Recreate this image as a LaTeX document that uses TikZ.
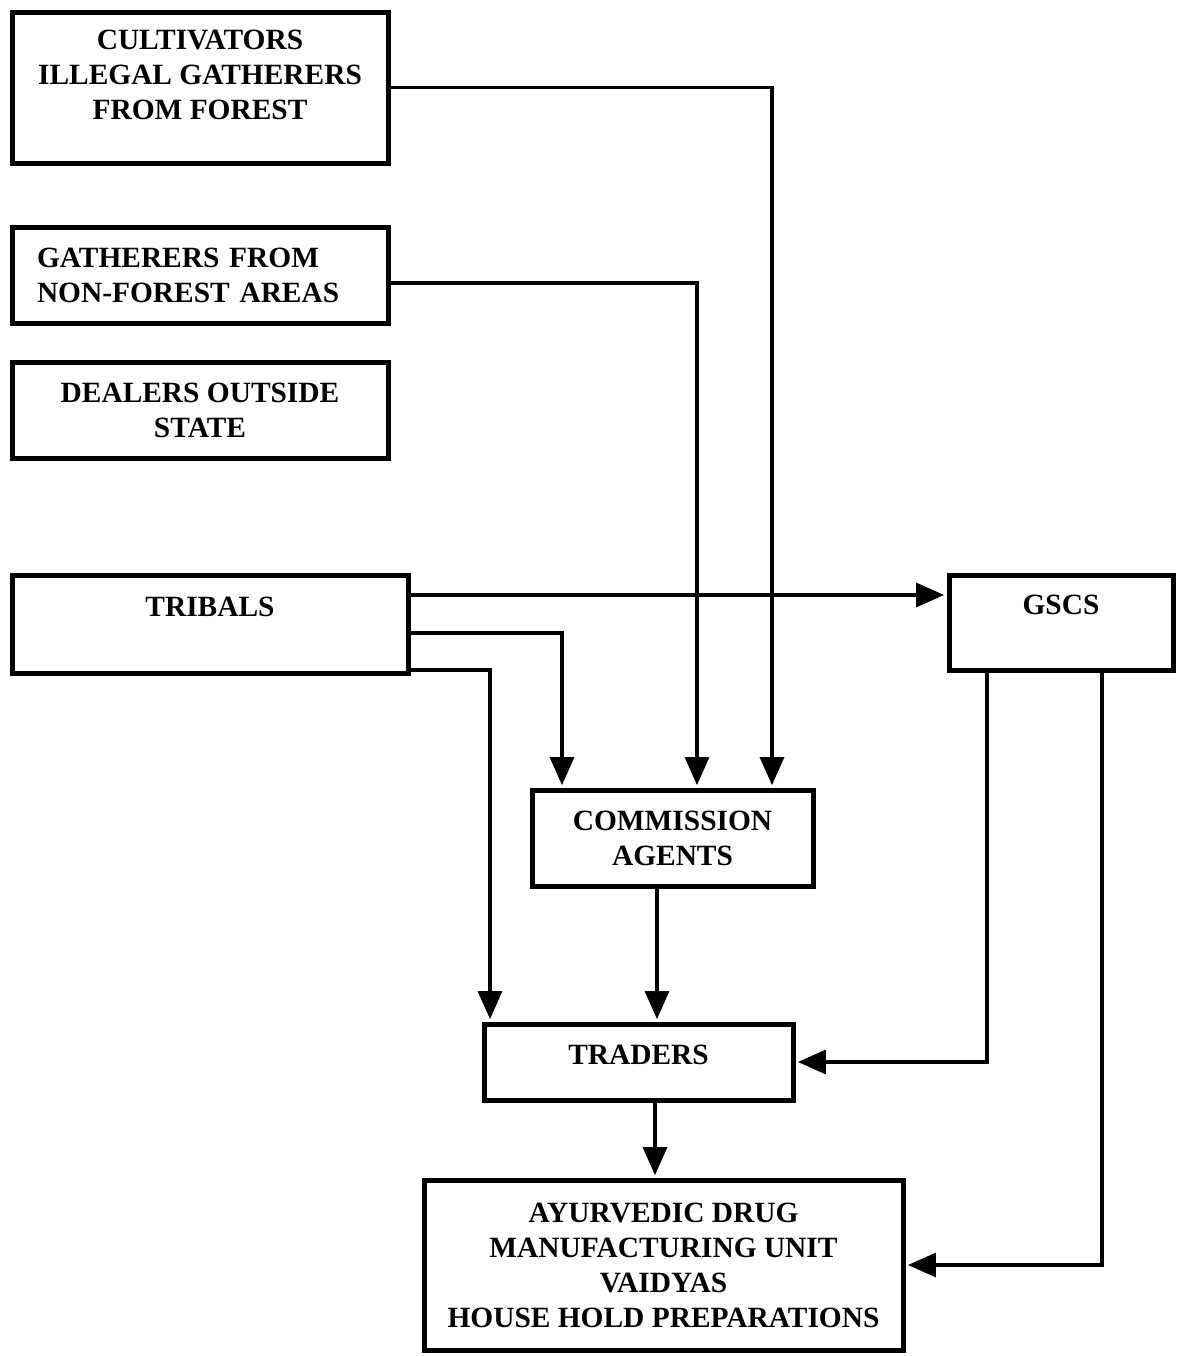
\documentclass[tikz,border=0pt]{standalone}
\usepackage{fontspec}
\setmainfont{Liberation Serif}
\usetikzlibrary{arrows.meta}

\begin{document}
\begin{tikzpicture}[x=0.5pt, y=-0.5pt,
  box/.style={draw, line width=2.5pt, align=center, inner sep=0pt,
    font=\bfseries\fontsize{14.7}{17.5}\selectfont},
  flow/.style={line width=1.6pt, shorten >=1.2pt,
    -{Triangle[length=14pt, width=12pt]}}]
\useasboundingbox (0,0) rectangle (1179,1356);

\node[box, minimum width=188pt, minimum height=75.5pt] (cult) at (200,87.5)
  {CULTIVATORS\\ILLEGAL GATHERERS\\FROM FOREST\\[-5pt]~};
\node[box, align=left, text width=163pt, inner xsep=12.5pt, minimum height=48pt] (gath) at (200,275)
  {GATHERERS FROM\\NON-FOREST AREAS};
\node[box, minimum width=188pt, minimum height=48pt] (deal) at (200,410)
  {DEALERS OUTSIDE\\STATE};
\node[box, minimum width=198pt, minimum height=49pt] (trib) at (210,624)
  {TRIBALS\\~};
\node[box, minimum width=112pt, minimum height=47.5pt] (gscs) at (1061,622.5)
  {GSCS\\~};
\node[box, minimum width=140.5pt, minimum height=48pt] (comm) at (672.5,838)
  {COMMISSION\\AGENTS};
\node[box, minimum width=154.5pt, minimum height=38pt] (trad) at (638.5,1062)
  {TRADERS\\[-10.5pt]~};
\node[box, minimum width=239.5pt, minimum height=85pt] (ayur) at (663.5,1265)
  {AYURVEDIC DRUG\\MANUFACTURING UNIT\\VAIDYAS\\HOUSE HOLD PREPARATIONS};

% supply lines
\draw[flow] (cult.east) -| (772,0 |- comm.north);
\draw[flow] ([yshift=-4pt]gath.east) -| (697,0 |- comm.north);
\draw[flow] ([yshift=14.5pt]trib.east) -- ([yshift=13.75pt]gscs.west);
\draw[flow] ([yshift=-4.5pt]trib.east) -| (562,0 |- comm.north);
\draw[flow] ([yshift=-23pt]trib.east) -| (490,0 |- trad.north);
\draw[flow] (657,0 |- comm.south) -- (657,0 |- trad.north);
\draw[flow] (987,0 |- gscs.south) |- (trad.east);
\draw[flow] (1102,0 |- gscs.south) |- (ayur.east);
\draw[flow] (655,0 |- trad.south) -- (655,0 |- ayur.north);
\end{tikzpicture}
\end{document}
